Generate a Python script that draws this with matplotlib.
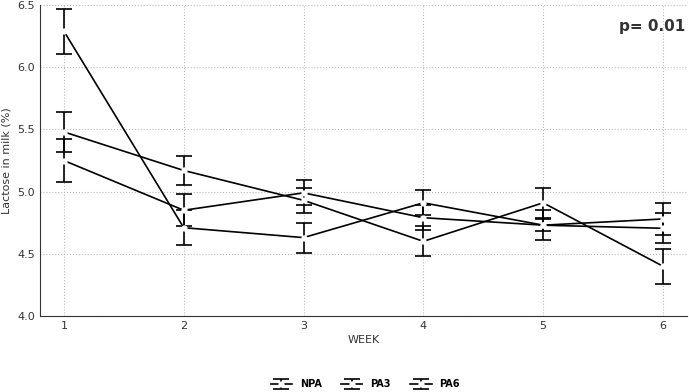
import matplotlib
matplotlib.use("Agg")
import matplotlib.pyplot as plt

weeks = [1, 2, 3, 4, 5, 6]
series_names = ["NPA", "PA3", "PA6"]
npa = [5.25, 4.85, 4.99, 4.79, 4.73, 4.705]
npa_err = [0.17, 0.13, 0.10, 0.10, 0.05, 0.12]
pa3 = [5.48, 5.17, 4.93, 4.60, 4.91, 4.40]
pa3_err = [0.16, 0.12, 0.10, 0.12, 0.12, 0.14]
pa6 = [6.29, 4.71, 4.63, 4.91, 4.73, 4.78]
pa6_err = [0.18, 0.14, 0.12, 0.10, 0.12, 0.13]
yticks = [4.0, 4.5, 5.0, 5.5, 6.0, 6.5]
annotation = "p= 0.01"

fig = plt.figure(figsize=(6.89, 3.92), dpi=100)
ax = fig.add_axes([0.058, 0.194, 0.939, 0.793])

for vals, errs, name in zip([npa, pa3, pa6], [npa_err, pa3_err, pa6_err], series_names):
    ax.errorbar(weeks, vals, yerr=errs, color="black", linewidth=1.2,
                marker="o", markersize=3.5, markerfacecolor="white",
                markeredgecolor="white", ecolor="black", elinewidth=1.2,
                capsize=6, capthick=1.2, label=name)

ax.set_xlim(0.8, 6.2)
ax.set_ylim(4.0, 6.5)
ax.set_xticks(weeks)
ax.set_yticks(yticks)
ax.set_yticklabels([f"{t:.1f}" for t in yticks])
ax.tick_params(labelsize=8, length=0, colors="#333333")
ax.grid(True, linestyle=":", color="#bbbbbb", linewidth=0.8)
ax.spines["top"].set_visible(False)
ax.spines["right"].set_visible(False)
ax.spines["left"].set_color("#333333")
ax.spines["bottom"].set_color("#333333")
ax.set_xlabel("WEEK", fontsize=8, color="#333333", labelpad=3)
ax.set_ylabel("Lactose in milk (%)", fontsize=8, color="#333333", labelpad=4)
ax.text(0.997, 0.955, annotation, transform=ax.transAxes, ha="right", va="top",
        fontsize=11, fontweight="bold", color="#333333")

leg = fig.legend(loc="center", bbox_to_anchor=(0.53, 0.02), ncol=3, frameon=False,
                 prop={"size": 7, "weight": "bold"}, handlelength=2.2, columnspacing=2.0)
plt.savefig("out.png", dpi=100)
